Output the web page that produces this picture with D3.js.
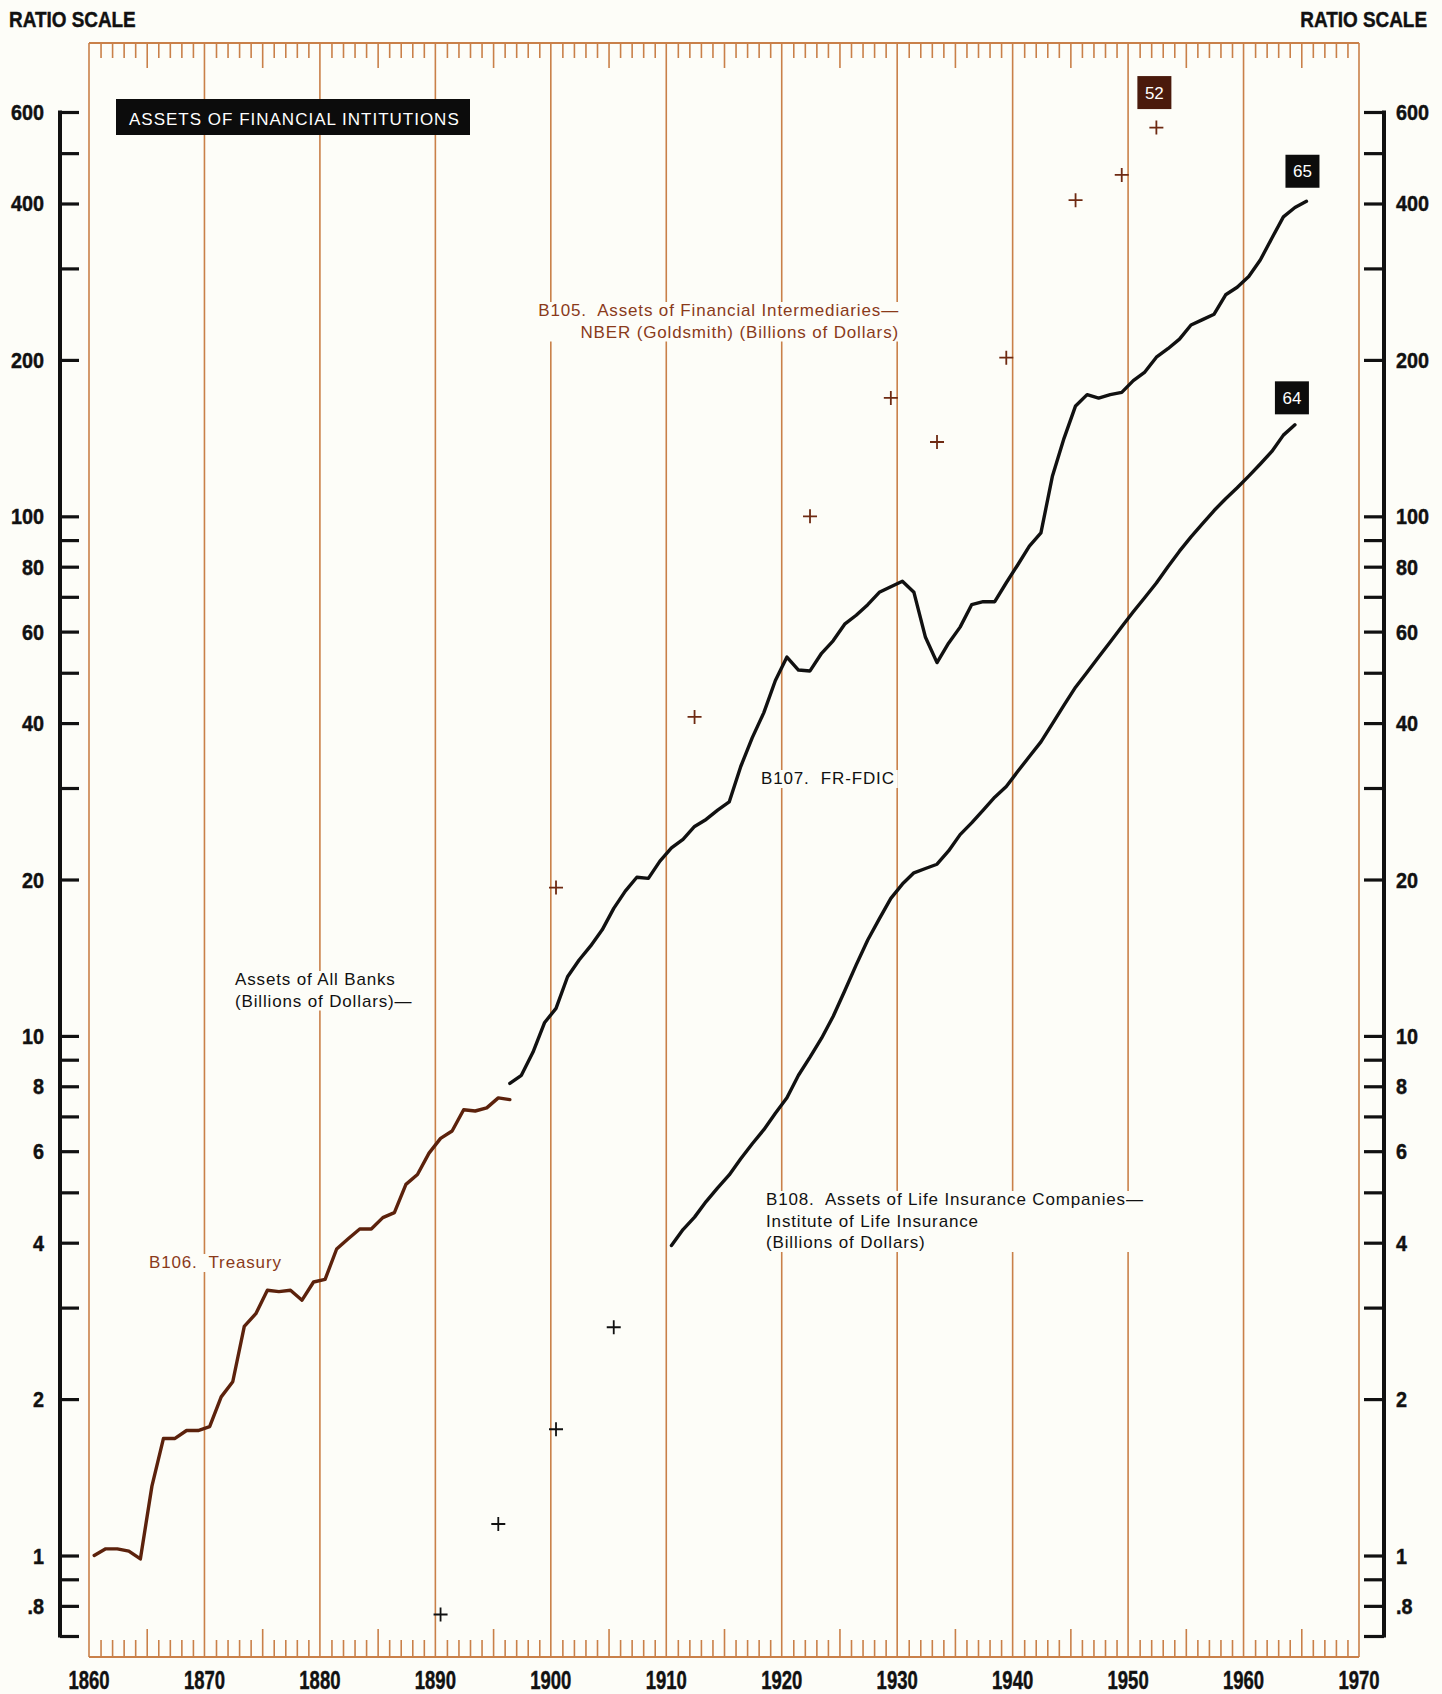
<!DOCTYPE html>
<html><head><meta charset="utf-8">
<script src="https://cdn.jsdelivr.net/npm/d3@7"></script>
<style>
html,body{margin:0;padding:0;background:#fdfdf8;}
svg{display:block;}
.cond{font-family:"Liberation Sans",Arial,sans-serif;font-weight:bold;stroke:#111;stroke-width:0.45px;}
.note{font-family:"Liberation Sans",Arial,sans-serif;font-size:17px;letter-spacing:0.85px;}
</style></head>
<body>
<script>
// ---------- DATA ----------
const treasuryYears = d3.range(1860, 1897);
const treasuryValues = [1.00,1.03,1.03,1.02,0.985,1.36,1.68,1.68,1.74,1.74,1.77,2.02,2.16,2.76,2.92,3.24,3.22,3.24,3.10,3.36,3.40,3.89,4.07,4.25,4.25,4.47,4.57,5.18,5.41,5.95,6.35,6.56,7.21,7.17,7.27,7.60,7.54];

const bankYears = d3.range(1896, 1966);
const bankValues = [8.1,8.4,9.3,10.6,11.3,13.0,14.0,14.9,16.0,17.6,19.0,20.2,20.1,21.7,23.0,23.9,25.3,26.1,27.2,28.2,33.0,37.5,41.9,48.3,53.6,50.6,50.4,54.5,57.6,62.0,64.5,67.6,71.4,73.2,75.0,71.4,58.5,52.3,57.0,61.2,67.6,68.5,68.5,74.5,80.7,87.6,92.9,119.6,141.3,163.1,171.5,168.9,171.5,173.2,182.5,189.5,202.4,210.2,219.3,233.5,239.1,244.9,266.9,276.0,289.5,311.4,342.8,377.0,393.0,404.0];

const lifeYears = d3.range(1910, 1965);
const lifeValues = [3.95,4.24,4.48,4.8,5.1,5.4,5.8,6.2,6.6,7.1,7.6,8.4,9.1,9.9,10.9,12.2,13.7,15.3,16.8,18.4,19.6,20.6,21.0,21.4,22.7,24.4,25.7,27.2,28.8,30.2,32.3,34.5,36.8,39.9,43.3,46.9,50.1,53.6,57.3,61.3,65.5,69.8,74.4,80.0,85.7,91.3,96.8,102.6,108.1,113.5,119.5,126.1,133.3,143.3,150.0];

const lifeEarlyYears = [1890, 1895, 1900, 1905];
const lifeEarlyValues = [0.77, 1.15, 1.75, 2.75];

const intermYears = [1900, 1912, 1922, 1929, 1933, 1939, 1945, 1949, 1952];
const intermValues = [19.3, 41.1, 100, 169, 139, 202, 406, 454, 560];

const decadeTicks = d3.range(1860, 1971, 10);
const yTickValues = [600,500,400,300,200,100,90,80,70,60,50,40,30,20,10,9,8,7,6,5,4,3,2,1,0.9,0.8,0.7];
const yLabelValues = [600,400,200,100,80,60,40,20,10,8,6,4,2,1,0.8];

// ---------- LAYOUT ----------
const W = 1442, H = 1694;
const frame = {left: 89, right: 1359, top: 43, bottom: 1657};
const GRID = "#c98049", BROWN = "#5c220c", BROWNTXT = "#8a3a1a", INK = "#111", PAPER = "#fdfdf8";
const MID = 0.45; // annual observations are plotted slightly inside the year

const svg = d3.select("body").append("svg").attr("width", W).attr("height", H);
svg.append("rect").attr("width", W).attr("height", H).attr("fill", PAPER);

const x = d3.scaleLinear().domain([1860, 1970]).range([frame.left, frame.right]);
const y = d3.scaleLog().domain([0.7, 600]).range([1636, 112]);
const xd = yr => x(yr + MID);

// horizontally condense a text around its anchor point
function squeeze(sel, f) {
  sel.each(function () {
    const s = d3.select(this);
    const x0 = +s.attr("x") || 0, y0 = +s.attr("y") || 0;
    s.attr("x", 0).attr("y", 0).attr("transform", `translate(${x0},${y0}) scale(${f},1)`);
  });
}

// frame & grid
const g = svg.append("g");
decadeTicks.forEach(d => {
  g.append("line").attr("x1", x(d)).attr("x2", x(d)).attr("y1", frame.top).attr("y2", frame.bottom)
    .attr("stroke", GRID).attr("stroke-width", 1.6);
});
g.append("line").attr("x1", frame.left).attr("x2", frame.right).attr("y1", frame.top).attr("y2", frame.top).attr("stroke", GRID).attr("stroke-width", 2);
g.append("line").attr("x1", frame.left).attr("x2", frame.right).attr("y1", frame.bottom).attr("y2", frame.bottom).attr("stroke", GRID).attr("stroke-width", 2);

// year ticks top (down) and bottom (up)
const yearTicks = d3.range(1861, 1970).filter(d => d % 10 !== 0);
const topAxis = d3.axisBottom(x).tickValues(yearTicks).tickFormat("").tickSizeOuter(0).tickSizeInner(15);
const ta = svg.append("g").attr("transform", `translate(0,${frame.top})`).call(topAxis);
ta.select(".domain").remove();
ta.selectAll(".tick text").remove();
ta.selectAll(".tick line").attr("stroke", GRID).attr("stroke-width", 1.6)
  .attr("y2", d => d % 5 === 0 ? 25 : 15);

const botAxis = d3.axisTop(x).tickValues(yearTicks).tickFormat("").tickSizeOuter(0).tickSizeInner(17);
const ba = svg.append("g").attr("transform", `translate(0,${frame.bottom})`).call(botAxis);
ba.select(".domain").remove();
ba.selectAll(".tick text").remove();
ba.selectAll(".tick line").attr("stroke", GRID).attr("stroke-width", 1.6)
  .attr("y2", d => d % 5 === 0 ? -28 : -17);

// year labels
const yl = svg.append("g").selectAll("text").data(decadeTicks).join("text")
  .attr("class", "cond").attr("x", d => x(d)).attr("y", 1689)
  .attr("text-anchor", "middle").attr("font-size", 25).attr("fill", INK).text(d => d);
squeeze(yl, 0.74);

// y axes (ticks from d3 axes, labels drawn beside them)
const fmt = v => v < 1 ? String(v).replace(/^0/, "") : String(v);
function yAxis(xPos, gen, side) {
  const a = svg.append("g").attr("transform", `translate(${xPos},0)`).call(gen);
  a.select(".domain").remove();
  a.selectAll(".tick text").remove();
  a.selectAll(".tick line").attr("stroke", INK).attr("stroke-width", 3.2);
  a.append("line").attr("x1", 0).attr("x2", 0).attr("y1", y(600) - 1.6).attr("y2", y(0.7) + 1.6)
    .attr("stroke", INK).attr("stroke-width", 4);
  const labs = svg.append("g").selectAll("text").data(yLabelValues).join("text")
    .attr("class", "cond").attr("font-size", 22).attr("fill", INK)
    .attr("x", side === "left" ? xPos - 16 : xPos + 12).attr("y", d => y(d) + 8)
    .attr("text-anchor", side === "left" ? "end" : "start").text(fmt);
  squeeze(labs, 0.9);
}
yAxis(60, d3.axisLeft(y).tickValues(yTickValues).tickSizeInner(-19).tickSizeOuter(0), "left");
yAxis(1384, d3.axisRight(y).tickValues(yTickValues).tickSizeInner(-20).tickSizeOuter(0), "right");

// RATIO SCALE
const rs1 = svg.append("text").attr("class", "cond").attr("x", 9).attr("y", 27).attr("font-size", 22).attr("fill", INK).text("RATIO SCALE");
const rs2 = svg.append("text").attr("class", "cond").attr("x", 1427).attr("y", 27).attr("text-anchor", "end").attr("font-size", 22).attr("fill", INK).text("RATIO SCALE");
squeeze(rs1, 0.86); squeeze(rs2, 0.86);

// Title box
svg.append("rect").attr("x", 116).attr("y", 99).attr("width", 354).attr("height", 36).attr("fill", "#0c0c0c");
svg.append("text").attr("x", 129).attr("y", 124.5).attr("font-family", "Liberation Sans, Arial, sans-serif")
  .attr("font-size", 17).attr("letter-spacing", 1.0).attr("fill", "#fff").text("ASSETS OF FINANCIAL INTITUTIONS");

// Annotations with paper background
function note(lines, xPos, yPos, color, anchor) {
  const t = svg.append("text").attr("class", "note").attr("fill", color).attr("text-anchor", anchor || "start");
  lines.forEach((l, i) => t.append("tspan").attr("x", xPos).attr("y", yPos + i * 21.5).text(l));
  const b = t.node().getBBox();
  svg.insert("rect", function(){ return t.node(); })
    .attr("x", b.x - 3).attr("y", b.y + 1).attr("width", b.width + 6).attr("height", b.height - 1).attr("fill", PAPER);
}
note(["B105.\u00a0 Assets of Financial Intermediaries\u2014", "NBER (Goldsmith) (Billions of Dollars)"], 899, 316, BROWNTXT, "end");
note(["B107.\u00a0 FR-FDIC"], 761, 784, INK);
note(["Assets of All Banks", "(Billions of Dollars)\u2014"], 235, 985, INK);
note(["B106.\u00a0 Treasury"], 149, 1268, BROWNTXT);
note(["B108.\u00a0 Assets of Life Insurance Companies\u2014", "Institute of Life Insurance", "(Billions of Dollars)"], 766, 1205, INK);

// Lines
const line = d3.line().x(d => xd(d[0])).y(d => y(d[1])).curve(d3.curveLinear);
function drawLine(years, vals, color) {
  svg.append("path").datum(d3.zip(years, vals)).attr("d", line)
    .attr("fill", "none").attr("stroke", color).attr("stroke-width", 3.4)
    .attr("stroke-linejoin", "round").attr("stroke-linecap", "round");
}
drawLine(treasuryYears, treasuryValues, BROWN);
drawLine(bankYears, bankValues, INK);
drawLine(lifeYears, lifeValues, INK);

// plus markers
function plus(data, color) {
  const s = 7;
  svg.append("g").selectAll("path").data(data).join("path")
    .attr("d", d => `M${xd(d[0]) - s},${y(d[1])}H${xd(d[0]) + s}M${xd(d[0])},${y(d[1]) - s}V${y(d[1]) + s}`)
    .attr("stroke", color).attr("stroke-width", 1.8).attr("fill", "none");
}
plus(d3.zip(intermYears, intermValues), "#6e2a12");
plus(d3.zip(lifeEarlyYears, lifeEarlyValues), INK);

// end-label boxes
function endBox(yr, val, label, fill, dy, dx) {
  const cx = xd(yr) + (dx || 0), cy = y(val) - dy;
  svg.append("rect").attr("x", cx - 17).attr("y", cy - 16.5).attr("width", 34).attr("height", 33).attr("fill", fill);
  svg.append("text").attr("x", cx).attr("y", cy + 6).attr("text-anchor", "middle")
    .attr("font-family", "Liberation Sans, Arial, sans-serif").attr("font-size", 17).attr("fill", "#fff").text(label);
}
endBox(intermYears[intermYears.length - 1], intermValues[intermValues.length - 1], "52", "#4a1a0c", 35, -2);
endBox(bankYears[bankYears.length - 1], bankValues[bankValues.length - 1], "65", "#0c0c0c", 30, -4);
endBox(lifeYears[lifeYears.length - 1], lifeValues[lifeValues.length - 1], "64", "#0c0c0c", 27, -3);
</script>
</body></html>
